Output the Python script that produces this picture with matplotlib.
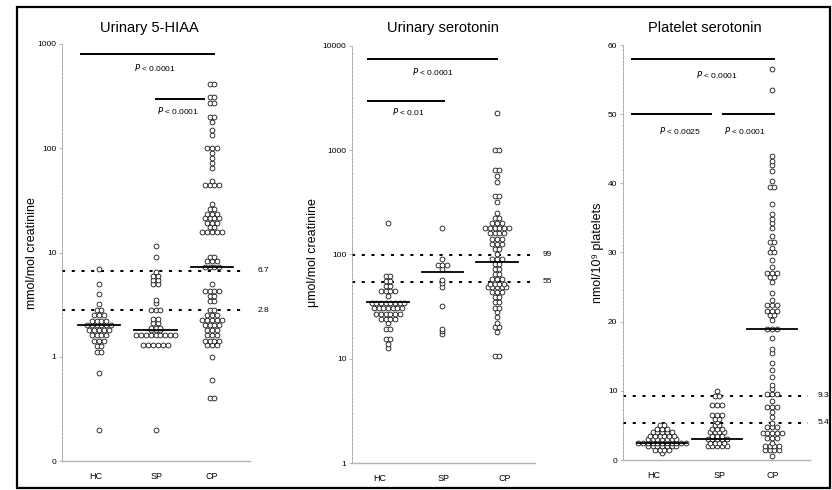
import numpy as np
import matplotlib.pyplot as plt
from matplotlib.patches import Rectangle

plt.rcParams['font.family'] = ['Liberation Sans', 'DejaVu Sans']

GROUPS = ['HC', 'SP', 'CP']

# Urinary 5-HIAA (mmol/mol creatinine)
hiaa_hc = [7.0, 5.0, 4.0, 3.2, 2.8, 2.8, 2.5, 2.5, 2.5, 2.2, 2.2, 2.2, 2.2,
           2.0, 2.0, 2.0, 2.0, 2.0, 2.0, 1.8, 1.8, 1.8, 1.8, 1.8,
           1.6, 1.6, 1.6, 1.6, 1.43, 1.43, 1.43, 1.27, 1.27, 1.1, 1.1, 0.7, 0.2]
hiaa_sp = [11.5, 9.0, 6.5, 6.0, 6.0, 5.5, 5.5, 5.0, 5.0, 3.5, 3.3, 2.8, 2.8, 2.8,
           2.3, 2.3, 2.1, 2.1, 1.9, 1.9, 1.9, 1.8, 1.8, 1.8,
           1.6, 1.6, 1.6, 1.6, 1.6, 1.6, 1.6, 1.6, 1.6,
           1.3, 1.3, 1.3, 1.3, 1.3, 1.3, 0.2]
hiaa_cp = [410, 410, 310, 310, 270, 270, 200, 200, 180, 150, 133,
           100, 100, 100, 90, 80, 72, 65, 48, 44, 44, 44, 44,
           29, 26, 26, 23.5, 23.5, 23.5, 21.5, 21.5, 21.5, 21.5, 19, 19, 19,
           17.5, 17.5, 15.8, 15.8, 15.8, 15.8, 15.8,
           9.1, 9.1, 8.2, 8.2, 8.2, 7.2, 7.2, 7.2, 7.2, 5.0,
           4.3, 4.3, 4.3, 4.3, 3.8, 3.8, 3.4, 3.4, 2.8, 2.8, 2.5, 2.5, 2.5,
           2.25, 2.25, 2.25, 2.25, 2.25, 2.03, 2.03, 2.03, 2.03, 1.8, 1.8, 1.8,
           1.6, 1.6, 1.6, 1.42, 1.42, 1.42, 1.42, 1.3, 1.3, 1.3, 1.0, 0.6, 0.4, 0.4]
hiaa_median = [2.0, 1.8, 7.2]
hiaa_ref = [6.7, 2.8]

# Urinary serotonin (umol/mol creatinine)
user_hc = [200, 62, 62, 56, 56, 50, 50, 45, 45, 45, 45, 40,
           34, 34, 34, 34, 34, 34, 34, 34, 30.5, 30.5, 30.5, 30.5, 30.5, 30.5, 30.5,
           27, 27, 27, 27, 27, 27, 24, 24, 24, 24, 22, 19.5, 19.5,
           15.6, 15.6, 14, 12.8]
user_sp = [180, 91, 80, 80, 80, 73, 57, 53, 49, 32, 19.5, 18.3, 17.4]
user_cp = [2300, 1000, 1000, 640, 640, 570, 500, 365, 365, 320, 250, 225, 225,
           200, 200, 200, 178, 178, 178, 178, 178, 178, 160, 160, 160, 160,
           142, 142, 142, 127, 127, 127, 114, 114, 102, 91, 91, 91, 81, 81,
           73, 73, 65, 65, 58, 58, 58, 52, 52, 52, 52, 49, 49, 49, 49, 49,
           44, 44, 44, 39, 39, 35, 35, 31, 31, 28, 25, 22, 20, 20, 18, 10.7, 10.7]
user_median = [35, 68, 85]
user_ref = [99, 55]

# Platelet serotonin (nmol/10^9 platelets)
plat_hc = [5.0, 5.0, 4.5, 4.5, 4.5, 4.0, 4.0, 4.0, 4.0, 4.0,
           3.5, 3.5, 3.5, 3.5, 3.5, 3.5, 3.0, 3.0, 3.0, 3.0, 3.0, 3.0, 3.0,
           2.5, 2.5, 2.5, 2.5, 2.5, 2.5, 2.5, 2.5, 2.5, 2.5, 2.5,
           2.0, 2.0, 2.0, 2.0, 2.0, 2.0, 2.0, 1.5, 1.5, 1.5, 1.5, 1.0]
plat_sp = [10.0, 9.2, 9.2, 8.0, 8.0, 8.0, 6.5, 6.5, 6.5, 6.0, 6.0, 5.5, 5.0, 5.0,
           4.5, 4.5, 4.5, 4.0, 4.0, 4.0, 4.0, 3.5, 3.5, 3.5,
           3.0, 3.0, 3.0, 3.0, 3.0, 2.5, 2.5, 2.5, 2.5, 2.0, 2.0, 2.0, 2.0, 2.0]
plat_cp = [56.5, 53.5, 44.0, 43.3, 42.6, 41.8, 40.3, 39.5, 39.5, 37.0,
           35.6, 34.9, 34.2, 33.5, 32.4, 31.5, 31.5, 30.7, 30.0, 30.0, 28.9, 27.9,
           27.1, 27.1, 27.1, 26.4, 26.4, 25.7, 24.1, 23.1, 22.4, 22.4, 22.4,
           21.6, 21.6, 21.6, 20.9, 20.9, 20.2, 19.0, 19.0, 19.0, 17.6, 16.0, 15.5,
           14.0, 13.0, 12.0, 10.8, 10.2, 9.5, 9.5, 9.5, 8.6, 7.7, 7.7, 7.7, 6.9, 6.2,
           5.4, 4.7, 4.7, 4.7, 3.9, 3.9, 3.9, 3.9, 3.9, 3.2, 3.2, 3.2, 2.5,
           2.0, 2.0, 2.0, 2.0, 1.45, 1.45, 1.45, 1.45, 0.6]
plat_median = [2.5, 3.0, 19.0]
plat_ref = [9.3, 5.4]

W, H = 832, 490


def px_axes(fig, left, right, top, bottom):
    return fig.add_axes([left / W, 1 - bottom / H, (right - left) / W, (bottom - top) / H])


def swarm(ax, x, values, dx=0.086):
    uniq, counts = np.unique(values, return_counts=True)
    xs, ys = [], []
    for v, n in zip(uniq, counts):
        offs = (np.arange(n) - (n - 1) / 2) * dx
        xs.extend(x + offs)
        ys.extend([v] * n)
    ax.plot(xs, ys, 'o', ms=3.5, mfc='white', mec='black', mew=0.55, zorder=3)


def style(ax, xlim, xtick_pos, refs, ref_xmax):
    ax.set_xlim(*xlim)
    for s in ['top', 'right']:
        ax.spines[s].set_visible(False)
    ax.spines['left'].set_color('0.6')
    ax.spines['left'].set_linewidth(0.6)
    ax.spines['left'].set_linestyle((0, (3, 1.5)))
    ax.spines['bottom'].set_color('0.7')
    ax.spines['bottom'].set_linewidth(1.0)
    ax.set_xticks(xtick_pos)
    ax.set_xticklabels(GROUPS, fontsize=6.5)
    ax.tick_params(axis='x', length=0, pad=8)
    ax.tick_params(axis='y', length=2, width=0.5, color='0.6', labelsize=6, pad=2)
    ax.minorticks_off()
    for r in refs:
        ax.axhline(r, xmin=0, xmax=ref_xmax, color='black', lw=1.4,
                   linestyle=(0, (1.6, 3.4)), zorder=2)
        ax.text(1.04, r, f'{r:g}', transform=ax.get_yaxis_transform(),
                fontsize=6, va='center', ha='left')


def medians(ax, meds, half=0.38):
    for i, m in enumerate(meds):
        ax.plot([i + 1 - half, i + 1 + half], [m, m], color='black', lw=1.3, zorder=4)


def sig_bar(ax, x0, x1, y, label, tx, ty):
    ax.plot([x0, x1], [y, y], color='black', lw=1.4, solid_capstyle='butt')
    ax.text(tx, ty, r'$\it{P}$ < ' + label, fontsize=6, ha='center', va='center')


fig = plt.figure(figsize=(W / 100, H / 100), dpi=100)
fig.add_artist(Rectangle((17 / W, 2 / H), (830 - 17) / W, (483 - 2) / H,
                         transform=fig.transFigure, fill=False, lw=1.6, ec='black'))

# Panel 1: urinary 5-HIAA
ax1 = px_axes(fig, 62, 250, 44, 461)
ax1.set_yscale('log')
ax1.set_ylim(0.1, 1000)
ax1.set_yticks([0.1, 1, 10, 100, 1000])
ax1.set_yticklabels(['0', '1', '10', '100', '1000'])
for i, vals in enumerate([hiaa_hc, hiaa_sp, hiaa_cp]):
    swarm(ax1, i + 1, vals)
medians(ax1, hiaa_median)
style(ax1, (0.345, 3.672), [0.95, 2.02, 3.0], hiaa_ref, 0.97)
sig_bar(ax1, 0.66, 3.05, 800, '0.0001', 1.99, 600)
sig_bar(ax1, 1.99, 2.88, 300, '0.0001', 2.4, 232)

# Panel 2: urinary serotonin
ax2 = px_axes(fig, 352, 535, 46, 463)
ax2.set_yscale('log')
ax2.set_ylim(1, 10000)
ax2.set_yticks([1, 10, 100, 1000, 10000])
ax2.set_yticklabels(['1', '10', '100', '1000', '10000'])
for i, vals in enumerate([user_hc, user_sp, user_cp]):
    swarm(ax2, i + 1, vals)
medians(ax2, user_median)
style(ax2, (0.34, 3.70), [0.85, 2.03, 3.15], user_ref, 0.97)
sig_bar(ax2, 0.61, 3.02, 7500, '0.0001', 1.83, 5750)
sig_bar(ax2, 0.61, 2.05, 3000, '0.01', 1.37, 2330)

# Panel 3: platelet serotonin
ax3 = px_axes(fig, 623, 810, 45, 460)
ax3.set_ylim(0, 60)
ax3.set_yticks([0, 10, 20, 30, 40, 50, 60])
for i, vals in enumerate([plat_hc, plat_sp, plat_cp]):
    swarm(ax3, i + 1, vals)
medians(ax3, plat_median, half=0.45)
style(ax3, (0.29, 3.69), [0.85, 2.04, 3.02], plat_ref, 0.99)
sig_bar(ax3, 0.44, 3.05, 58, '0.0001', 2.0, 55.8)
sig_bar(ax3, 0.44, 1.91, 50, '0.0025', 1.33, 47.6)
sig_bar(ax3, 2.09, 3.05, 50, '0.0001', 2.5, 47.6)

# titles and axis labels
for cx, t in [(149, 'Urinary 5-HIAA'), (443, 'Urinary serotonin'), (705, 'Platelet serotonin')]:
    fig.text(cx / W, 1 - 28 / H, t, fontsize=10.5, ha='center', va='center')
for lx, t in [(32, 'mmol/mol creatinine'), (313, 'μmol/mol creatinine'),
              (598, 'nmol/10⁹ platelets')]:
    fig.text(lx / W, 1 - 253 / H, t, fontsize=9, rotation=90, ha='center', va='center')

fig.savefig('out.png', dpi=100)
